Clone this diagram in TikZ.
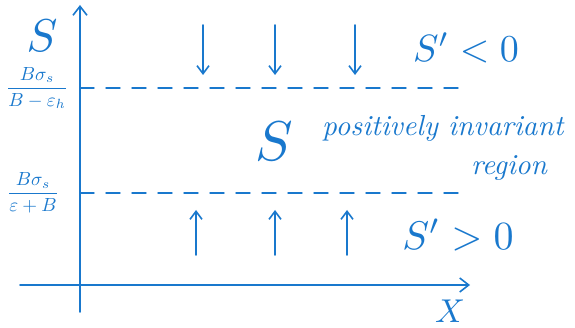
\documentclass[tikz,border=0pt]{standalone}
\usepackage{amsmath}
\usepackage{graphicx}
\usetikzlibrary{arrows.meta}
\definecolor{ink}{RGB}{25,120,205}
\newcommand{\sz}[2]{\scalebox{#1}{#2}}
\begin{document}
\begin{tikzpicture}[x=1pt,y=-1pt,
  ink/.style={draw=ink,line width=1.6pt,line cap=round},
  axis/.style={ink,-{Straight Barb[length=9pt,width=14pt]}},
  flow/.style={ink,-{Straight Barb[length=8pt,width=12pt]}},
  dashline/.style={ink,line width=1.4pt,dash pattern=on 14pt off 12pt},
  lbl/.style={text=ink,inner sep=0pt}]
\useasboundingbox (0,0) rectangle (575,328);
% axes
\coordinate (o) at (80,285);
\coordinate (ytop) at (80,5);
\coordinate (ybot) at (80,312);
\coordinate (xl) at (20,285);
\coordinate (xr) at (470,285);
\draw[axis] (ybot) -- (ytop);
\draw[axis] (xl) -- (xr);
% dashed levels
\coordinate (u1) at (80,88); \coordinate (u2) at (462,88);
\coordinate (l1) at (80,193); \coordinate (l2) at (462,193);
\draw[dashline] (u1) -- (u2);
\draw[dashline] (l1) -- (l2);
% downward arrows
\foreach \n/\x in {d1/203,d2/275,d3/355}{
  \coordinate (\n a) at (\x,25); \coordinate (\n b) at (\x,75);
  \draw[flow] (\n a) -- (\n b);}
% upward arrows
\foreach \n/\x in {e1/196,e2/275,e3/347}{
  \coordinate (\n a) at (\x,255); \coordinate (\n b) at (\x,210);
  \draw[flow] (\n a) -- (\n b);}
% labels
\node[lbl] (S) at (42,36) {\sz{4.6}{$S$}};
\node[lbl] (f1) at (37,88) {\sz{1.9}{$\dfrac{B\sigma_s}{B-\varepsilon_h}$}};
\node[lbl] (f2) at (33,193) {\sz{1.9}{$\dfrac{B\sigma_s}{\varepsilon+B}$}};
\node[lbl] (neg) at (466,48) {\sz{3.8}{$S'<0$}};
\node[lbl] (pos) at (458,235) {\sz{4.0}{$S'>0$}};
\node[lbl] (Sm) at (274,141) {\sz{5.6}{$S$}};
\node[lbl,anchor=west] (pi) at (322,128) {\sz{2.9}{\itshape positively invariant}};
\node[lbl] (rg) at (509,168) {\sz{2.9}{\itshape region}};
\node[lbl] (X) at (450,311) {\sz{3.3}{$X$}};
\end{tikzpicture}
\end{document}
